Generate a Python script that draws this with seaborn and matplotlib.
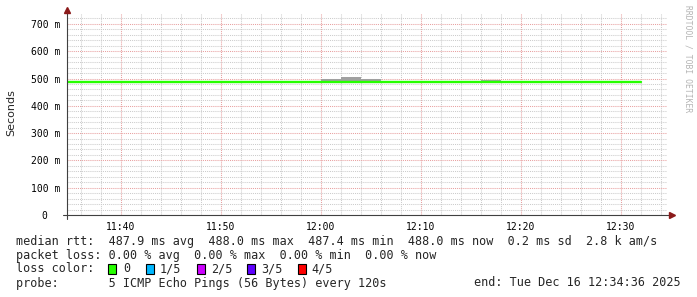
import pandas as pd
import matplotlib
matplotlib.use("Agg")
import matplotlib.pyplot as plt
import matplotlib.dates as mdates
from matplotlib.patches import Rectangle
import seaborn as sns

# step start times (2 min RRD steps), last entry closes the final step
times = ["11:34:36", "11:36", "11:38", "11:40", "11:42", "11:44", "11:46", "11:48",
         "11:50", "11:52", "11:54", "11:56", "11:58", "12:00", "12:02", "12:04",
         "12:06", "12:08", "12:10", "12:12", "12:14", "12:16", "12:18", "12:20",
         "12:22", "12:24", "12:26", "12:28", "12:30", "12:32"]
# median rtt in seconds
median = [0.488, 0.488, 0.488, 0.488, 0.488, 0.488, 0.488, 0.488,
          0.488, 0.488, 0.488, 0.488, 0.488, 0.488, 0.488, 0.488,
          0.488, 0.488, 0.4874, 0.488, 0.488, 0.488, 0.488, 0.488,
          0.488, 0.488, 0.488, 0.488, 0.488, 0.488]
# highest ping of each step (smoke top)
smoke_max = [0.488, 0.488, 0.488, 0.488, 0.488, 0.488, 0.488, 0.488,
             0.488, 0.488, 0.488, 0.488, 0.488, 0.4995, 0.5046, 0.4995,
             0.488, 0.488, 0.4874, 0.488, 0.488, 0.494, 0.488, 0.488,
             0.488, 0.488, 0.488, 0.488, 0.488, 0.488]

y_ticks = [0, 0.1, 0.2, 0.3, 0.4, 0.5, 0.6, 0.7]
y_labels = ["0  ", "100 m", "200 m", "300 m", "400 m", "500 m", "600 m", "700 m"]

loss_labels = ["0", "1/5", "2/5", "3/5", "4/5"]
loss_colors = ["#26ff00", "#00b8ff", "#cc00ff", "#5e00ff", "#ff0000"]

df = pd.DataFrame({
    "time": pd.to_datetime(["2025-12-16 " + t for t in times], format="mixed"),
    "median": median,
    "smoke": smoke_max,
})

sns.set_style("white")
plt.rcParams["font.family"] = ["DejaVu Sans Mono", "DejaVu Sans"]

W, H = 697, 297
fig = plt.figure(figsize=(W / 100, H / 100), dpi=100)
ax = fig.add_axes([67 / W, (H - 215) / H, 600 / W, (215 - 13) / H])

t0 = pd.Timestamp("2025-12-16 11:34:36")
t1 = pd.Timestamp("2025-12-16 12:34:36")
ax.set_xlim(t0, t1)
ax.set_ylim(0, 0.740)

ax.fill_between(df["time"], df["median"], df["smoke"], step="post",
                color="#a0a0a0", lw=0, zorder=3)
sns.lineplot(data=df, x="time", y="median", drawstyle="steps-post",
             color="#26ff00", lw=1.7, ax=ax, zorder=4)

# grid
ax.xaxis.set_major_locator(mdates.MinuteLocator(byminute=range(0, 60, 10)))
ax.xaxis.set_minor_locator(mdates.MinuteLocator(byminute=range(0, 60, 2)))
ax.xaxis.set_major_formatter(mdates.DateFormatter("%H:%M"))
ax.set_yticks(y_ticks)
ax.set_yticklabels(y_labels)
ax.set_yticks([v / 100 for v in range(0, 74, 2)], minor=True)

ax.grid(which="minor", color="#cccccc", lw=0.75, ls=(0, (1, 1)), zorder=1)
ax.grid(which="major", color="#e8a0a0", lw=0.75, ls=(0, (1, 1)), zorder=2)

ax.tick_params(axis="both", which="major", length=3, width=0.7, color="#404040",
               labelsize=7, pad=2, labelcolor="black")
ax.tick_params(axis="both", which="minor", length=1.5, width=0.6, color="#808080")
ax.set_xlabel("")
ax.set_ylabel("")
for s in ax.spines.values():
    s.set_visible(False)

# axes with arrows
ax.plot([-0.007, 1.006], [0, 0], transform=ax.transAxes, color="#404040",
        lw=0.8, clip_on=False, zorder=5)
ax.plot([0, 0], [-0.02, 1.01], transform=ax.transAxes, color="#404040",
        lw=0.8, clip_on=False, zorder=5)
ax.plot([1.008], [0], marker=">", ms=4, color="#8b1a1a", transform=ax.transAxes,
        clip_on=False, zorder=6)
ax.plot([0], [1.015], marker="^", ms=4, color="#8b1a1a", transform=ax.transAxes,
        clip_on=False, zorder=6)

fig.text(11 / W, 1 - 113 / H, "Seconds", rotation=90, ha="center", va="center",
         fontsize=8, family="DejaVu Sans")
fig.text(688 / W, 1 - 5 / H, "RRDTOOL / TOBI OETIKER", rotation=-90, ha="center",
         va="top", fontsize=5.8, color="#b4b4b4")

fs = 8.48
fig.text(16 / W, 1 - 241 / H,
         "median rtt:  487.9 ms avg  488.0 ms max  487.4 ms min  488.0 ms now  0.2 ms sd  2.8 k am/s",
         va="center", fontsize=fs)
fig.text(16 / W, 1 - 255 / H,
         "packet loss: 0.00 % avg  0.00 % max  0.00 % min  0.00 % now",
         va="center", fontsize=fs)
fig.text(16 / W, 1 - 269 / H, "loss color:", va="center", fontsize=fs)
box_x = [108, 146, 197, 247, 298]
text_x = [123, 160, 211, 261, 311]
for bx, tx, lab, col in zip(box_x, text_x, loss_labels, loss_colors):
    fig.patches.append(Rectangle((bx / W, 1 - 274 / H), 8 / W, 10 / H,
                                 transform=fig.transFigure, facecolor=col,
                                 edgecolor="black", lw=0.8))
    fig.text(tx / W, 1 - 269 / H, lab, va="center", fontsize=fs)
fig.text(16 / W, 1 - 283 / H, "probe:       5 ICMP Echo Pings (56 Bytes) every 120s",
         va="center", fontsize=fs)
fig.text(681 / W, 1 - 283 / H, "end: Tue Dec 16 12:34:36 2025", ha="right",
         va="center", fontsize=fs)

fig.savefig("out.png", dpi=100, facecolor="white")
